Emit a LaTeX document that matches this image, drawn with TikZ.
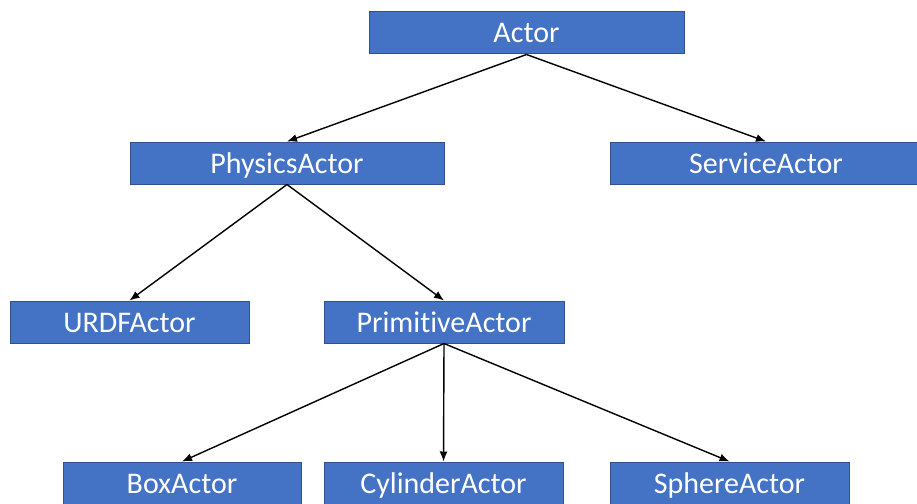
\documentclass[tikz,border=0pt]{standalone}
\usepackage{fontspec}
\setmainfont{Carlito}[Ligatures=NoCommon]
\usetikzlibrary{positioning,arrows.meta}
\definecolor{boxblue}{HTML}{4472C4}
\definecolor{boxedge}{HTML}{2F528F}
\tikzset{actor/.style={draw=boxedge,fill=boxblue,text=white,line width=1pt,minimum height=42pt,inner sep=0pt,text height=20pt,text depth=0pt,font=\fontsize{30}{36}\selectfont}}
\tikzset{link/.style={-{Latex[length=10pt,width=8pt]},line width=1.4pt}}

\begin{document}
\begin{tikzpicture}[x=1pt,y=-1pt]
  \useasboundingbox (0,0) rectangle (917,503);
  % top level
  \node[actor,minimum width=315pt] (actor) at (526.5,33) {Actor};
  % second level
  \node[actor,minimum width=314pt] (physics) at (287,163) {PhysicsActor};
  \node[actor,minimum width=312pt] (service) at (766,163) {ServiceActor};
  % third level
  \node[actor,minimum width=239pt] (urdf) at (129.5,322) {URDFActor};
  \node[actor,minimum width=240pt] (primitive) at (444,322) {PrimitiveActor};
  % primitives
  \node[actor,minimum width=238pt] (box) at (182,483) {BoxActor};
  \node[actor,minimum width=239pt] (cylinder) at (443.5,483) {CylinderActor};
  \node[actor,minimum width=239pt] (sphere) at (729.5,483) {SphereActor};
  \draw[link] (actor.south) -- (physics.north);
  \draw[link] (actor.south) -- (service.north);
  \draw[link] (physics.south) -- (urdf.north);
  \draw[link] (physics.south) -- (primitive.north);
  \foreach \leaf in {box,cylinder,sphere}
    \draw[link] (primitive.south) -- (\leaf.north);
\end{tikzpicture}
\end{document}
